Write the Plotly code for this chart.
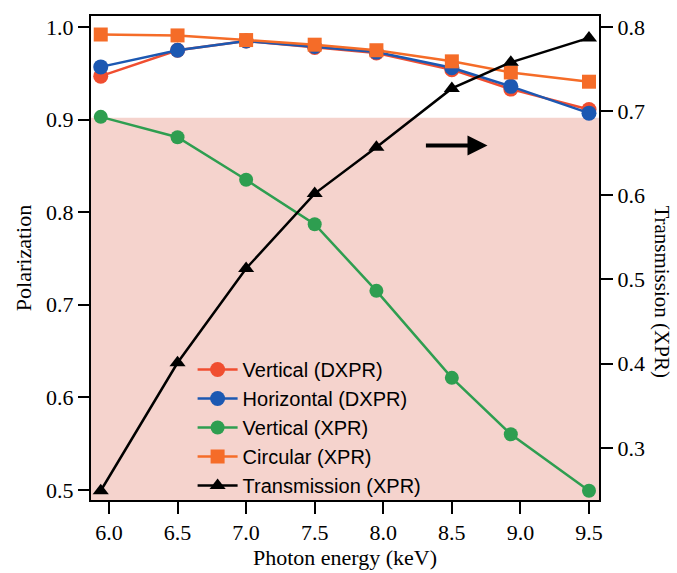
import plotly.graph_objects as go

energy = [5.94, 6.5, 7.0, 7.5, 7.95, 8.5, 8.93, 9.5]
vert_dxpr = [0.947, 0.975, 0.985, 0.978, 0.972, 0.954, 0.933, 0.911]
horiz_dxpr = [0.957, 0.975, 0.985, 0.979, 0.973, 0.956, 0.936, 0.907]
vert_xpr = [0.903, 0.881, 0.835, 0.787, 0.715, 0.621, 0.560, 0.499]
circ_xpr = [0.992, 0.991, 0.986, 0.981, 0.975, 0.963, 0.951, 0.941]
trans_xpr = [0.249, 0.401, 0.513, 0.602, 0.657, 0.727, 0.758, 0.787]

x_ticks = [6.0, 6.5, 7.0, 7.5, 8.0, 8.5, 9.0, 9.5]
y_ticks = [0.5, 0.6, 0.7, 0.8, 0.9, 1.0]
y2_ticks = [0.3, 0.4, 0.5, 0.6, 0.7, 0.8]

RED = "rgb(240,78,48)"
BLUE = "rgb(28,88,178)"
GREEN = "rgb(46,158,80)"
ORANGE = "rgb(245,108,40)"

fig = go.Figure()
fig.add_trace(go.Scatter(x=energy, y=vert_dxpr, name="Vertical (DXPR)", mode="lines+markers",
                         line=dict(color=RED, width=2.5), marker=dict(symbol="circle", size=15, color=RED)))
fig.add_trace(go.Scatter(x=energy, y=horiz_dxpr, name="Horizontal (DXPR)", mode="lines+markers",
                         line=dict(color=BLUE, width=2.5), marker=dict(symbol="circle", size=15, color=BLUE)))
fig.add_trace(go.Scatter(x=energy, y=vert_xpr, name="Vertical (XPR)", mode="lines+markers",
                         line=dict(color=GREEN, width=2.5), marker=dict(symbol="circle", size=14, color=GREEN)))
fig.add_trace(go.Scatter(x=energy, y=circ_xpr, name="Circular (XPR)", mode="lines+markers",
                         line=dict(color=ORANGE, width=2.5), marker=dict(symbol="square", size=14, color=ORANGE)))
fig.add_trace(go.Scatter(x=energy, y=trans_xpr, name="Transmission (XPR)", mode="lines+markers", yaxis="y2",
                         line=dict(color="black", width=2.5), marker=dict(symbol="triangle-up", size=14, color="black")))

fig.add_shape(type="rect", xref="paper", x0=0, x1=1, yref="y", y0=0.48, y1=0.902,
              fillcolor="rgb(245,211,205)", line=dict(width=0), layer="below")

fig.add_annotation(x=8.76, y=0.872, ax=8.3, ay=0.872, xref="x", yref="y", axref="x", ayref="y",
                   text="", showarrow=True, arrowhead=2, arrowsize=1.0, arrowwidth=4, arrowcolor="black")

axis_font = dict(family="Liberation Serif", size=22, color="black")

fig.add_annotation(text="Transmission (XPR)", xref="paper", yref="paper", x=1.125, y=0.43,
                   textangle=90, showarrow=False, xanchor="center", yanchor="middle",
                   font=dict(family="Liberation Serif", size=21, color="black"))

fig.update_layout(
    width=677, height=573,
    margin=dict(l=91, r=78, t=16, b=73, autoexpand=False),
    paper_bgcolor="white", plot_bgcolor="white",
    showlegend=True,
    legend=dict(x=0.2, y=0.31, xanchor="left", yanchor="top", bgcolor="rgba(0,0,0,0)",
                font=dict(family="Liberation Sans", size=20, color="black"), tracegroupgap=0,
                itemwidth=40),
    xaxis=dict(range=[5.869, 9.573], tickvals=x_ticks, ticktext=[f"{v:.1f}" for v in x_ticks],
               ticks="outside", ticklen=12, tickwidth=2, tickcolor="black",
               showline=True, linecolor="black", linewidth=2, mirror=True, showgrid=False, zeroline=False,
               tickfont=axis_font, title=dict(text="Photon energy (keV)", font=axis_font, standoff=3)),
    yaxis=dict(range=[0.489, 1.012], tickvals=y_ticks, ticktext=[f"{v:.1f}" for v in y_ticks],
               ticks="outside", ticklen=11, tickwidth=2, tickcolor="black",
               showline=True, linecolor="black", linewidth=2, showgrid=False, zeroline=False,
               tickfont=axis_font, title=dict(text="Polarization", font=axis_font, standoff=8)),
    yaxis2=dict(range=[0.238, 0.813], tickvals=y2_ticks, ticktext=[f"{v:.1f}" for v in y2_ticks],
                overlaying="y", side="right", anchor="x",
                ticks="outside", ticklen=12, tickwidth=2, tickcolor="black",
                showline=True, linecolor="black", linewidth=2, showgrid=False, zeroline=False,
                tickfont=axis_font),
)

fig.write_html("out.html", config={"displayModeBar": False},
               post_script="document.body.style.margin='0';")
